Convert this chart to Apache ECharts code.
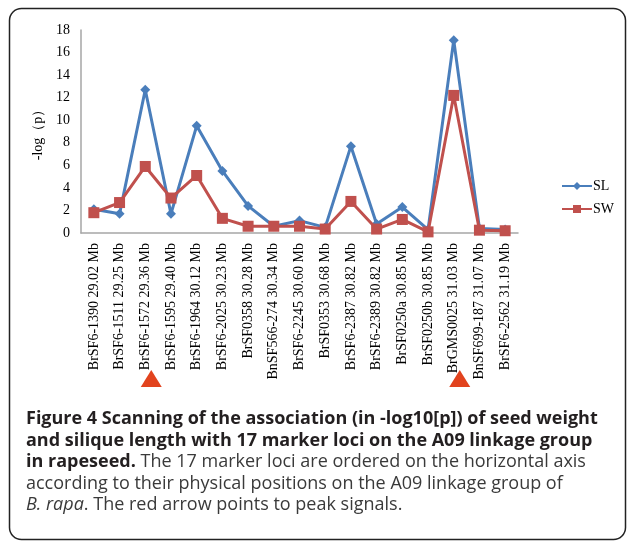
<!DOCTYPE html>
<html>
<head>
<meta charset="utf-8">
<script src="https://cdn.jsdelivr.net/npm/echarts@6/dist/echarts.min.js"></script>
<style>
  html, body { margin: 0; padding: 0; background: #fff; }
  #chart { width: 627px; height: 542px; }
</style>
</head>
<body>
<div id="chart"></div>
<script>
// marker loci with physical positions on A09
const markers = [
  'BrSF6-1390 29.02 Mb', 'BrSF6-1511 29.25 Mb', 'BrSF6-1572 29.36 Mb', 'BrSF6-1595 29.40 Mb',
  'BrSF6-1964 30.12 Mb', 'BrSF6-2025 30.23 Mb', 'BrSF0358 30.28 Mb', 'BnSF566-274 30.34 Mb',
  'BrSF6-2245 30.60 Mb', 'BrSF0353 30.68 Mb', 'BrSF6-2387 30.82 Mb', 'BrSF6-2389 30.82 Mb',
  'BrSF0250a 30.85 Mb', 'BrSF0250b 30.85 Mb', 'BrGMS0025 31.03 Mb', 'BnSF699-187 31.07 Mb',
  'BrSF6-2562 31.19 Mb',
];
const slValues = [2.1, 1.7, 12.7, 1.7, 9.5, 5.5, 2.4, 0.6, 1.1, 0.5, 7.7, 0.8, 2.3, 0.3, 17.1, 0.4, 0.3];
const swValues = [1.8, 2.7, 5.9, 3.1, 5.1, 1.3, 0.6, 0.6, 0.6, 0.35, 2.8, 0.35, 1.2, 0.1, 12.2, 0.25, 0.2];
const yTicks = { min: 0, max: 18, interval: 2 };
const peakIdx = [2, 14];

const serif = '"Liberation Serif", "DejaVu Serif", serif';
const sans = '"Open Sans", "Noto Sans", sans-serif';

const chart = echarts.init(document.getElementById('chart'));

const captionRich = {
  b: { fontFamily: sans, fontSize: 18, fontWeight: 'bold', fill: '#231f20' },
  n: { fontFamily: sans, fontSize: 18, fill: '#3a3a3a' },
  i: { fontFamily: sans, fontSize: 18, fill: '#3a3a3a', fontStyle: 'italic' },
};
const captionLines = [
  '{b|Figure 4 Scanning of the association (in -log10[p]) of seed weight}',
  '{b|and silique length with 17 marker loci on the A09 linkage group}',
  '{b|in rapeseed.}{n| The 17 marker loci are ordered on the horizontal axis}',
  '{n|according to their physical positions on the A09 linkage group of}',
  '{i|B. rapa}{n|. The red arrow points to peak signals.}',
];

function baseGraphics() {
  const g = [
    {
      type: 'rect',
      shape: { x: 9.5, y: 8.5, width: 616, height: 531, r: 12 },
      style: { fill: 'none', stroke: '#222', lineWidth: 1.5 },
      silent: true,
    },
  ];
  captionLines.forEach((line, i) => {
    g.push({
      type: 'text',
      left: 26,
      top: 410 + i * 21.5,
      style: { text: line, rich: captionRich },
    });
  });
  return g;
}

chart.setOption({
  animation: false,
  grid: { left: 81, right: 109, top: 30, bottom: 309 },
  legend: {
    orient: 'vertical',
    left: 556,
    top: 174,
    itemWidth: 30,
    itemHeight: 10,
    itemGap: 9,
    textStyle: { fontFamily: serif, fontSize: 14, color: '#000', padding: [0, 0, 0, -4] },
    data: ['SL', 'SW'],
  },
  xAxis: {
    type: 'category',
    data: markers,
    boundaryGap: true,
    axisLine: { lineStyle: { color: '#a6a6a6', width: 1.5 } },
    axisTick: { show: false },
    axisLabel: {
      interval: 0,
      rotate: 90,
      margin: 10,
      fontFamily: serif,
      fontSize: 14,
      color: '#000',
    },
  },
  yAxis: {
    type: 'value',
    min: yTicks.min,
    max: yTicks.max,
    interval: yTicks.interval,
    name: '-log（p）',
    nameLocation: 'middle',
    nameRotate: 90,
    nameGap: 31,
    nameTextStyle: { fontFamily: serif, fontSize: 14, color: '#000' },
    axisLine: { show: true, lineStyle: { color: '#a6a6a6', width: 1.5 } },
    axisTick: { show: false },
    splitLine: { show: false },
    axisLabel: { fontFamily: serif, fontSize: 14, color: '#000', margin: 11 },
  },
  series: [
    {
      name: 'SL',
      type: 'line',
      data: slValues,
      symbol: 'diamond',
      symbolSize: 10,
      lineStyle: { color: '#4a7ebb', width: 3 },
      itemStyle: { color: '#4a7ebb' },
      z: 2,
    },
    {
      name: 'SW',
      type: 'line',
      data: swValues,
      symbol: 'rect',
      symbolSize: 11,
      lineStyle: { color: '#c0504d', width: 3 },
      itemStyle: { color: '#c0504d' },
      z: 3,
    },
  ],
  graphic: baseGraphics(),
});

// red arrows under the peak loci
const arrows = peakIdx.map((idx) => {
  const x = chart.convertToPixel({ xAxisIndex: 0 }, idx) + 6;
  return {
    type: 'polygon',
    shape: { points: [[x - 10.5, 387], [x + 10.5, 387], [x, 370]] },
    style: { fill: '#e2431e' },
    silent: true,
  };
});
chart.setOption({ graphic: baseGraphics().concat(arrows) }, { replaceMerge: ['graphic'] });
</script>
</body>
</html>
